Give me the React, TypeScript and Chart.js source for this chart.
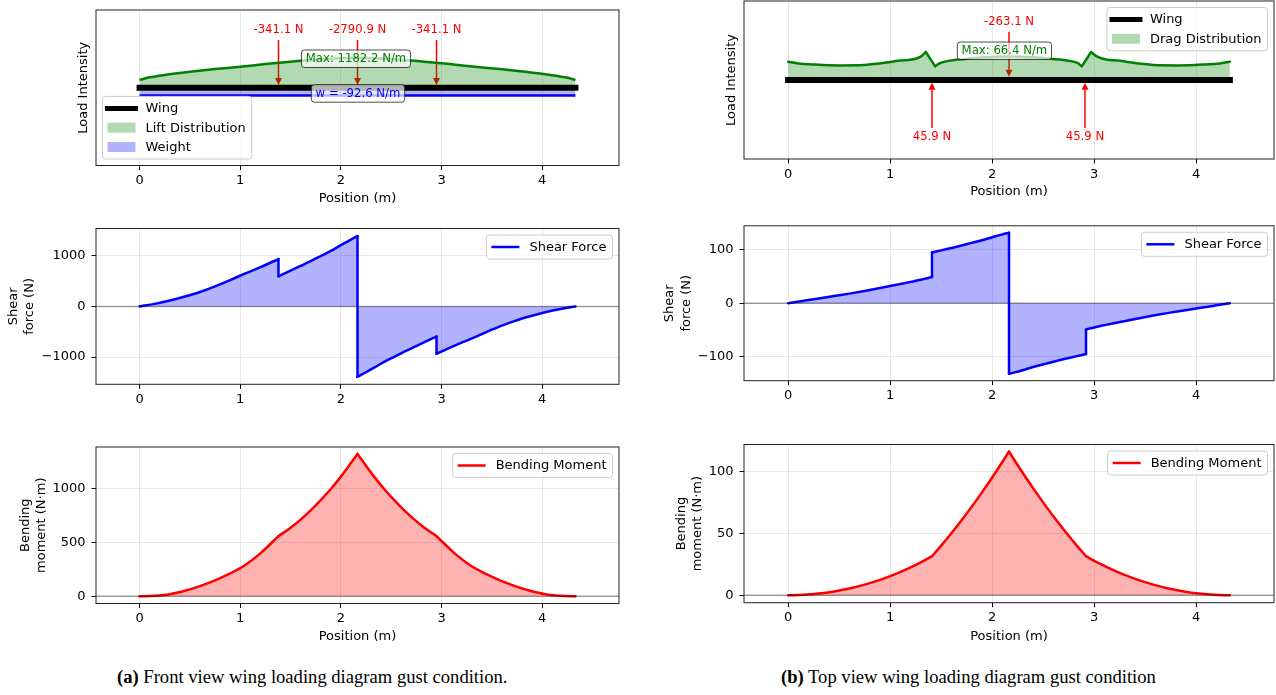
import React, { useEffect, useRef } from 'react';
import { Chart, registerables } from 'chart.js';
Chart.register(...registerables);

const FONT = '"DejaVu Sans", sans-serif';

// ---------- shared axis data ----------
const xTickValues = [0, 1, 2, 3, 4];
const xAxisMin = -0.433;
const xAxisMax = 4.763;
const wingX = [0, 4.33];
const wingY = [0, 0];

// ---------- (a) front view ----------
const liftX = [0, 0.05, 0.1, 0.25, 0.5, 0.75, 1.0, 1.25, 1.5, 1.75, 2.0, 2.165, 2.33, 2.58, 2.83, 3.08, 3.33, 3.58, 3.83, 4.08, 4.23, 4.28, 4.33];
const liftY = [0.10, 0.12, 0.135, 0.165, 0.205, 0.24, 0.27, 0.305, 0.335, 0.36, 0.378, 0.385, 0.378, 0.36, 0.335, 0.305, 0.27, 0.24, 0.205, 0.165, 0.135, 0.12, 0.10];
const weightX = [0, 4.33];
const weightY = [-0.10, -0.10];
const frontLoadX = [1.38, 2.165, 2.95];
const frontLoadLabels = ['-341.1 N', '-2790.9 N', '-341.1 N'];
const frontMaxLabel = 'Max: 1182.2 N/m';
const frontWeightLabel = 'w = -92.6 N/m';

const frontShearX = [0, 0.15, 0.3, 0.45, 0.6, 0.75, 0.9, 1.05, 1.2, 1.38, 1.38, 1.5, 1.6, 1.7, 1.8, 1.9, 2.0, 2.1, 2.165, 2.165, 2.23, 2.33, 2.43, 2.53, 2.63, 2.73, 2.83, 2.95, 2.95, 3.13, 3.28, 3.43, 3.58, 3.73, 3.88, 4.03, 4.18, 4.33];
const frontShearY = [0, 50, 115, 195, 285, 395, 520, 650, 775, 935, 595, 705, 800, 895, 995, 1095, 1210, 1320, 1390, -1390, -1320, -1210, -1095, -995, -895, -800, -705, -595, -935, -775, -650, -520, -395, -285, -195, -115, -50, 0];
const frontShearTicks = [-1000, 0, 1000];

const frontMomentX = [0, 0.15, 0.3, 0.45, 0.6, 0.75, 0.9, 1.05, 1.2, 1.38, 1.5, 1.6, 1.7, 1.8, 1.9, 2.0, 2.1, 2.165, 2.23, 2.33, 2.43, 2.53, 2.63, 2.73, 2.83, 2.95, 3.13, 3.28, 3.43, 3.58, 3.73, 3.88, 4.03, 4.18, 4.33];
const frontMomentY = [0, 5, 20, 52, 95, 148, 212, 290, 398, 557, 635, 710, 795, 890, 993, 1108, 1234, 1318, 1234, 1108, 993, 890, 795, 710, 635, 557, 398, 290, 212, 148, 95, 52, 20, 5, 0];
const frontMomentBreaks = [1.38, 2.165, 2.95];
const frontMomentTicks = [0, 500, 1000];

// ---------- (b) top view ----------
const dragX = [0, 0.1, 0.25, 0.4, 0.5, 0.75, 1.0, 1.1, 1.2, 1.3, 1.35, 1.44, 1.5, 1.6, 1.8, 2.0, 2.165, 2.33, 2.53, 2.73, 2.83, 2.88, 2.97, 3.03, 3.13, 3.23, 3.33, 3.58, 3.83, 3.93, 4.08, 4.23, 4.33];
const dragY = [0.232, 0.21, 0.197, 0.187, 0.185, 0.19, 0.227, 0.248, 0.256, 0.296, 0.354, 0.176, 0.219, 0.248, 0.274, 0.29, 0.296, 0.29, 0.274, 0.248, 0.219, 0.176, 0.354, 0.296, 0.256, 0.248, 0.227, 0.19, 0.185, 0.187, 0.197, 0.21, 0.232];
const dragBreaks = [1.35, 1.44, 2.88, 2.97];
const topCenterLoadX = [2.165];
const topCenterLoadLabels = ['-263.1 N'];
const topSupportX = [1.41, 2.91];
const topSupportLabels = ['45.9 N', '45.9 N'];
const topMaxLabel = 'Max: 66.4 N/m';

const topShearX = [0, 0.15, 0.3, 0.45, 0.6, 0.75, 0.9, 1.05, 1.2, 1.3, 1.41, 1.41, 1.5, 1.6, 1.7, 1.8, 1.9, 2.0, 2.1, 2.165, 2.165, 2.23, 2.33, 2.43, 2.53, 2.63, 2.73, 2.83, 2.92, 2.92, 3.03, 3.13, 3.28, 3.43, 3.58, 3.73, 3.88, 4.03, 4.18, 4.33];
const topShearY = [0, 4.5, 9, 13.5, 18, 23, 28.5, 34, 40, 44, 49, 95, 99, 103.5, 108, 113, 118, 123.5, 129, 132, -132, -129, -123.5, -118, -113, -108, -103.5, -99, -95, -49, -44, -40, -34, -28.5, -23, -18, -13.5, -9, -4.5, 0];
const topShearTicks = [-100, 0, 100];

const topMomentX = [0, 0.15, 0.3, 0.45, 0.6, 0.75, 0.9, 1.05, 1.2, 1.3, 1.41, 1.5, 1.6, 1.7, 1.8, 1.9, 2.0, 2.1, 2.165, 2.23, 2.33, 2.43, 2.53, 2.63, 2.73, 2.83, 2.92, 3.03, 3.13, 3.28, 3.43, 3.58, 3.73, 3.88, 4.03, 4.18, 4.33];
const topMomentY = [0, 0.35, 1.4, 3.1, 5.5, 8.6, 12.4, 17, 22.5, 26.5, 31.5, 40, 50, 60.5, 71.5, 83, 95, 107.5, 116, 107.5, 95, 83, 71.5, 60.5, 50, 40, 31.5, 26.5, 22.5, 17, 12.4, 8.6, 5.5, 3.1, 1.4, 0.35, 0];
const topMomentBreaks = [1.41, 2.165, 2.92];
const topMomentTicks = [0, 50, 100];

// ---------- helpers ----------
const pts = (xs: number[], ys: number[]) => xs.map((x, i) => ({ x, y: ys[i] }));
const fmtTick = (v: number) => String(v).replace('-', '\u2212');

// Splits a series into smooth pieces (at vertical jumps and at listed kink positions)
function curveDatasets(xs: number[], ys: number[], color: string, fillColor: string, breaks: number[] = []) {
  const segs: { x: number; y: number }[][] = [];
  const jumps: { x: number; y: number }[][] = [];
  let cur = [{ x: xs[0], y: ys[0] }];
  for (let i = 1; i < xs.length; i++) {
    if (xs[i] === xs[i - 1]) {
      segs.push(cur);
      jumps.push([{ x: xs[i], y: ys[i - 1] }, { x: xs[i], y: ys[i] }]);
      cur = [{ x: xs[i], y: ys[i] }];
    } else {
      cur.push({ x: xs[i], y: ys[i] });
      if (breaks.includes(xs[i]) && i < xs.length - 1 && xs[i + 1] !== xs[i]) {
        segs.push(cur);
        cur = [{ x: xs[i], y: ys[i] }];
      }
    }
  }
  segs.push(cur);
  const lines = segs.map((s) => ({
    data: s, borderColor: color, borderWidth: 2.5, fill: false, pointRadius: 0,
    cubicInterpolationMode: 'monotone', borderCapStyle: 'round', borderJoinStyle: 'round',
  }));
  const jumpLines = jumps.map((j) => ({
    data: j, borderColor: color, borderWidth: 2.5, fill: false, pointRadius: 0, borderCapStyle: 'round',
  }));
  const fillDs = {
    data: pts(xs, ys), borderWidth: 0, borderColor: 'rgba(0,0,0,0)', fill: 'origin', backgroundColor: fillColor, pointRadius: 0, tension: 0,
  };
  return [...lines, ...jumpLines, fillDs];
}

function roundRect(ctx: CanvasRenderingContext2D, x: number, y: number, w: number, h: number, r: number) {
  ctx.beginPath();
  ctx.moveTo(x + r, y);
  ctx.lineTo(x + w - r, y);
  ctx.quadraticCurveTo(x + w, y, x + w, y + r);
  ctx.lineTo(x + w, y + h - r);
  ctx.quadraticCurveTo(x + w, y + h, x + w - r, y + h);
  ctx.lineTo(x + r, y + h);
  ctx.quadraticCurveTo(x, y + h, x, y + h - r);
  ctx.lineTo(x, y + r);
  ctx.quadraticCurveTo(x, y, x + r, y);
  ctx.closePath();
}

type LegendItem = { label: string; kind: 'line' | 'patch'; color: string; width?: number; square?: boolean };

function drawLegend(ctx: CanvasRenderingContext2D, area: any, items: LegendItem[], corner: 'ur' | 'll') {
  ctx.save();
  ctx.font = `13px ${FONT}`;
  const tw = Math.max(...items.map((i) => ctx.measureText(i.label).width));
  const w = 5 + 28 + 10 + tw + 6;
  const step = 19.3;
  const h = 24 + (items.length - 1) * step;
  const inset = 6.5;
  const x0 = corner === 'ur' ? area.right - inset - w : area.left + inset;
  const y0 = corner === 'ur' ? area.top + inset : area.bottom - inset - h;
  roundRect(ctx, x0, y0, w, h, 3);
  ctx.fillStyle = 'rgba(255,255,255,0.8)';
  ctx.fill();
  ctx.strokeStyle = '#cccccc';
  ctx.lineWidth = 1;
  ctx.stroke();
  items.forEach((it, i) => {
    const cy = y0 + 12 + i * step;
    const hx = x0 + 5;
    if (it.kind === 'line') {
      ctx.beginPath();
      ctx.moveTo(hx, cy);
      ctx.lineTo(hx + 28, cy);
      ctx.strokeStyle = it.color;
      ctx.lineWidth = it.width || 2.5;
      ctx.lineCap = it.square ? 'square' : 'butt';
      ctx.stroke();
    } else {
      ctx.fillStyle = it.color;
      ctx.fillRect(hx, cy - 5, 28, 10);
    }
    ctx.fillStyle = '#000';
    ctx.textAlign = 'left';
    ctx.textBaseline = 'middle';
    ctx.fillText(it.label, hx + 38, cy + 0.5);
  });
  ctx.restore();
}

function drawTextBox(ctx: CanvasRenderingContext2D, cx: number, cy: number, text: string, color: string) {
  ctx.save();
  ctx.font = `11.7px ${FONT}`;
  const tw = ctx.measureText(text).width;
  const padX = 4.3;
  const h = 17.5;
  roundRect(ctx, cx - tw / 2 - padX, cy - h / 2, tw + 2 * padX, h, 3);
  ctx.fillStyle = 'rgba(255,255,255,0.7)';
  ctx.fill();
  ctx.strokeStyle = 'rgba(0,0,0,0.7)';
  ctx.lineWidth = 1;
  ctx.stroke();
  ctx.fillStyle = color;
  ctx.textAlign = 'center';
  ctx.textBaseline = 'middle';
  ctx.fillText(text, cx, cy + 0.5);
  ctx.restore();
}

function drawArrow(ctx: CanvasRenderingContext2D, x: number, yTail: number, yTip: number, color: string) {
  const dir = Math.sign(yTip - yTail);
  const hl = 7;
  const hw = 3.5;
  ctx.save();
  ctx.strokeStyle = color;
  ctx.fillStyle = color;
  ctx.lineWidth = 1.5;
  ctx.beginPath();
  ctx.moveTo(x, yTail);
  ctx.lineTo(x, yTip - dir * hl);
  ctx.stroke();
  ctx.beginPath();
  ctx.moveTo(x, yTip);
  ctx.lineTo(x - hw, yTip - dir * hl);
  ctx.lineTo(x + hw, yTip - dir * hl);
  ctx.closePath();
  ctx.fill();
  ctx.restore();
}

function drawLabel(ctx: CanvasRenderingContext2D, x: number, y: number, text: string, color: string) {
  ctx.save();
  ctx.font = `11.7px ${FONT}`;
  ctx.fillStyle = color;
  ctx.textAlign = 'center';
  ctx.textBaseline = 'middle';
  ctx.fillText(text, x, y);
  ctx.restore();
}

interface Panel {
  left: number; top: number; w: number; h: number;
  area: [number, number, number, number];
  yMin: number; yMax: number; yTicks: number[] | null;
  datasets: any[];
  yTitle: string[]; yTitleX: number[];
  xTitleY: number | null;
  zeroLine: boolean;
  legend: LegendItem[]; legendCorner: 'ur' | 'll';
  before?: (ctx: CanvasRenderingContext2D, xs: any, ys: any) => void;
  after?: (ctx: CanvasRenderingContext2D, xs: any, ys: any) => void;
}

const wingDataset = () => ({
  data: pts(wingX, wingY), borderColor: '#000', borderWidth: 6, borderCapStyle: 'square', fill: false, pointRadius: 0,
});

function buildPanels(): Panel[] {
  const LW = 640, RW = 636;
  const L = { l: 96, r: 619 };
  const R = { l: 744 - 640, r: 1274 - 640 };
  const bands = [
    { top: 0, h: 212 },
    { top: 212, h: 218 },
    { top: 430, h: 230 },
  ];
  const shearItem: LegendItem[] = [{ label: 'Shear Force', kind: 'line', color: 'blue', width: 2.5 }];
  const momentItem: LegendItem[] = [{ label: 'Bending Moment', kind: 'line', color: 'red', width: 2.5 }];
  const shearFill = 'rgba(0,0,255,0.3)';
  const momentFill = 'rgba(255,0,0,0.3)';

  return [
    // (a) load
    {
      left: 0, top: bands[0].top, w: LW, h: bands[0].h,
      area: [L.l, 10, L.r, 165.5],
      yMin: -1, yMax: 1, yTicks: null,
      datasets: [
        wingDataset(),
        { data: pts(weightX, weightY), borderColor: 'blue', borderWidth: 2.5, fill: 'origin', backgroundColor: 'rgba(0,0,255,0.3)', pointRadius: 0 },
        { data: pts(liftX, liftY), borderColor: 'green', borderWidth: 2.5, fill: 'origin', backgroundColor: 'rgba(0,128,0,0.3)', pointRadius: 0, cubicInterpolationMode: 'monotone' },
      ],
      yTitle: ['Load Intensity'], yTitleX: [84],
      xTitleY: 199, zeroLine: false,
      legend: [
        { label: 'Wing', kind: 'line', color: '#000', width: 5, square: true },
        { label: 'Lift Distribution', kind: 'patch', color: 'rgba(0,128,0,0.3)' },
        { label: 'Weight', kind: 'patch', color: 'rgba(0,0,255,0.3)' },
      ],
      legendCorner: 'll',
      before: (ctx, xs, ys) => {
        frontLoadX.forEach((x) => drawArrow(ctx, xs.getPixelForValue(x), ys.getPixelForValue(0.615), ys.getPixelForValue(0.035), 'red'));
      },
      after: (ctx, xs, ys) => {
        frontLoadX.forEach((x, i) => drawLabel(ctx, xs.getPixelForValue(x), ys.getPixelForValue(0.743), frontLoadLabels[i], 'red'));
        drawTextBox(ctx, xs.getPixelForValue(2.15), ys.getPixelForValue(0.373), frontMaxLabel, 'green');
        drawTextBox(ctx, xs.getPixelForValue(2.17), ys.getPixelForValue(-0.073), frontWeightLabel, 'blue');
      },
    },
    // (a) shear
    {
      left: 0, top: bands[1].top, w: LW, h: bands[1].h,
      area: [L.l, 228.5 - 212, L.r, 384.3 - 212],
      yMin: -1538, yMax: 1538, yTicks: frontShearTicks,
      datasets: curveDatasets(frontShearX, frontShearY, 'blue', shearFill),
      yTitle: ['Shear', 'force (N)'], yTitleX: [13.7, 30],
      xTitleY: null, zeroLine: true,
      legend: shearItem, legendCorner: 'ur',
    },
    // (a) moment
    {
      left: 0, top: bands[2].top, w: LW, h: bands[2].h,
      area: [L.l, 447 - 430, L.r, 603.5 - 430],
      yMin: -66, yMax: 1382, yTicks: frontMomentTicks,
      datasets: curveDatasets(frontMomentX, frontMomentY, 'red', momentFill, frontMomentBreaks),
      yTitle: ['Bending', 'moment (N\u00b7m)'], yTitleX: [25.2, 41.2],
      xTitleY: 636.5 - 430, zeroLine: true,
      legend: momentItem, legendCorner: 'ur',
    },
    // (b) load
    {
      left: 640, top: bands[0].top, w: RW, h: bands[0].h,
      area: [R.l, 1, R.r, 159],
      yMin: -1, yMax: 1, yTicks: null,
      datasets: [
        wingDataset(),
        ...curveDatasets(dragX, dragY, 'green', 'rgba(0,128,0,0.3)', dragBreaks),
      ],
      yTitle: ['Load Intensity'], yTitleX: [91.7],
      xTitleY: 192, zeroLine: false,
      legend: [
        { label: 'Wing', kind: 'line', color: '#000', width: 5, square: true },
        { label: 'Drag Distribution', kind: 'patch', color: 'rgba(0,128,0,0.3)' },
      ],
      legendCorner: 'ur',
      before: (ctx, xs, ys) => {
        topCenterLoadX.forEach((x) => drawArrow(ctx, xs.getPixelForValue(x), ys.getPixelForValue(0.611), ys.getPixelForValue(0.042), 'red'));
        topSupportX.forEach((x) => drawArrow(ctx, xs.getPixelForValue(x), ys.getPixelForValue(-0.608), ys.getPixelForValue(-0.034), 'red'));
      },
      after: (ctx, xs, ys) => {
        drawTextBox(ctx, xs.getPixelForValue(2.12), ys.getPixelForValue(0.37), topMaxLabel, 'green');
        topCenterLoadX.forEach((x, i) => drawLabel(ctx, xs.getPixelForValue(x), ys.getPixelForValue(0.73), topCenterLoadLabels[i], 'red'));
        topSupportX.forEach((x, i) => drawLabel(ctx, xs.getPixelForValue(x), ys.getPixelForValue(-0.718), topSupportLabels[i], 'red'));
      },
    },
    // (b) shear
    {
      left: 640, top: bands[1].top, w: RW, h: bands[1].h,
      area: [R.l, 222.5 - 212, R.r, 380.7 - 212],
      yMin: -145, yMax: 145, yTicks: topShearTicks,
      datasets: curveDatasets(topShearX, topShearY, 'blue', shearFill),
      yTitle: ['Shear', 'force (N)'], yTitleX: [30, 46.3],
      xTitleY: null, zeroLine: true,
      legend: shearItem, legendCorner: 'ur',
    },
    // (b) moment
    {
      left: 640, top: bands[2].top, w: RW, h: bands[2].h,
      area: [R.l, 444.5 - 430, R.r, 602.7 - 430],
      yMin: -6, yMax: 121.6, yTicks: topMomentTicks,
      datasets: curveDatasets(topMomentX, topMomentY, 'red', momentFill, topMomentBreaks),
      yTitle: ['Bending', 'moment (N\u00b7m)'], yTitleX: [42, 57.5],
      xTitleY: 636.5 - 430, zeroLine: true,
      legend: momentItem, legendCorner: 'ur',
    },
  ];
}

function makeChart(canvas: HTMLCanvasElement, p: Panel) {
  const [al, at, ar, ab] = p.area;
  const tickFont = { family: FONT, size: 13 };
  const plugin = {
    id: 'panelDecor',
    beforeDatasetsDraw(chart: any) {
      if (p.before) p.before(chart.ctx, chart.scales.x, chart.scales.y);
    },
    afterDatasetsDraw(chart: any) {
      const ctx = chart.ctx as CanvasRenderingContext2D;
      const a = chart.chartArea;
      if (p.zeroLine) {
        const y0 = chart.scales.y.getPixelForValue(0);
        ctx.save();
        ctx.strokeStyle = 'rgba(0,0,0,0.35)';
        ctx.lineWidth = 1.5;
        ctx.beginPath();
        ctx.moveTo(a.left, y0);
        ctx.lineTo(a.right, y0);
        ctx.stroke();
        ctx.restore();
      }
    },
    afterDraw(chart: any) {
      const ctx = chart.ctx as CanvasRenderingContext2D;
      const a = chart.chartArea;
      const xs = chart.scales.x;
      const ys = chart.scales.y;
      if (p.after) p.after(ctx, xs, ys);
      drawLegend(ctx, a, p.legend, p.legendCorner);
      ctx.save();
      ctx.strokeStyle = '#222';
      ctx.lineWidth = 1;
      ctx.strokeRect(a.left, a.top, a.right - a.left, a.bottom - a.top);
      ctx.restore();
      ctx.save();
      ctx.font = `13px ${FONT}`;
      ctx.fillStyle = '#000';
      ctx.textAlign = 'center';
      ctx.textBaseline = 'middle';
      const yc = (a.top + a.bottom) / 2;
      p.yTitle.forEach((line, i) => {
        ctx.save();
        ctx.translate(p.yTitleX[i], yc);
        ctx.rotate(-Math.PI / 2);
        ctx.fillText(line, 0, 0);
        ctx.restore();
      });
      if (p.xTitleY !== null) {
        ctx.fillText('Position (m)', (a.left + a.right) / 2, p.xTitleY);
      }
      ctx.restore();
    },
  };

  return new Chart(canvas, {
    type: 'line',
    data: { datasets: p.datasets },
    options: {
      responsive: false,
      animation: false,
      events: [],
      layout: { padding: { left: 0, top: at, right: p.w - ar, bottom: 0 } },
      plugins: { legend: { display: false }, tooltip: { enabled: false } },
      elements: { point: { radius: 0 }, line: { tension: 0 } },
      scales: {
        x: {
          type: 'linear',
          min: xAxisMin,
          max: xAxisMax,
          afterFit: (s: any) => { s.height = p.h - ab; },
          afterBuildTicks: (s: any) => { s.ticks = xTickValues.map((v) => ({ value: v })); },
          grid: { color: 'rgba(176,176,176,0.3)', lineWidth: 1, tickLength: 4.5, tickColor: '#000', tickWidth: 1, drawTicks: true },
          border: { display: false },
          ticks: { font: tickFont, color: '#000', padding: 3, maxRotation: 0, autoSkip: false, callback: (v: any) => fmtTick(v) },
        },
        y: {
          type: 'linear',
          min: p.yMin,
          max: p.yMax,
          afterFit: (s: any) => { s.width = al; },
          afterBuildTicks: (s: any) => { s.ticks = (p.yTicks || []).map((v) => ({ value: v })); },
          grid: { display: !!p.yTicks, color: 'rgba(176,176,176,0.3)', lineWidth: 1, tickLength: 4.5, tickColor: '#000', tickWidth: 1, drawTicks: true },
          border: { display: false },
          ticks: { display: !!p.yTicks, font: tickFont, color: '#000', padding: 6, autoSkip: false, callback: (v: any) => fmtTick(v) },
        },
      },
    } as any,
    plugins: [plugin],
  });
}

const panels = buildPanels();

export default function App() {
  const canvasRefs = useRef<(HTMLCanvasElement | null)[]>([]);
  useEffect(() => {
    const charts = panels.map((p, i) => makeChart(canvasRefs.current[i] as HTMLCanvasElement, p));
    return () => charts.forEach((c) => c.destroy());
  }, []);

  const captionStyle: React.CSSProperties = {
    position: 'absolute', top: 667, fontFamily: '"Liberation Serif", "Times New Roman", serif',
    fontSize: 18.6, lineHeight: '19px', whiteSpace: 'nowrap', color: '#000',
  };

  return (
    <div style={{ position: 'absolute', left: 0, top: 0, width: 1276, height: 695, background: '#fff', overflow: 'hidden' }}>
      {panels.map((p, i) => (
        <canvas
          key={i}
          ref={(el) => { canvasRefs.current[i] = el; }}
          width={p.w}
          height={p.h}
          style={{ position: 'absolute', left: p.left, top: p.top, width: p.w, height: p.h }}
        />
      ))}
      <div style={{ ...captionStyle, left: 117 }}><b>(a)</b> Front view wing loading diagram gust condition.</div>
      <div style={{ ...captionStyle, left: 781 }}><b>(b)</b> Top view wing loading diagram gust condition</div>
    </div>
  );
}
